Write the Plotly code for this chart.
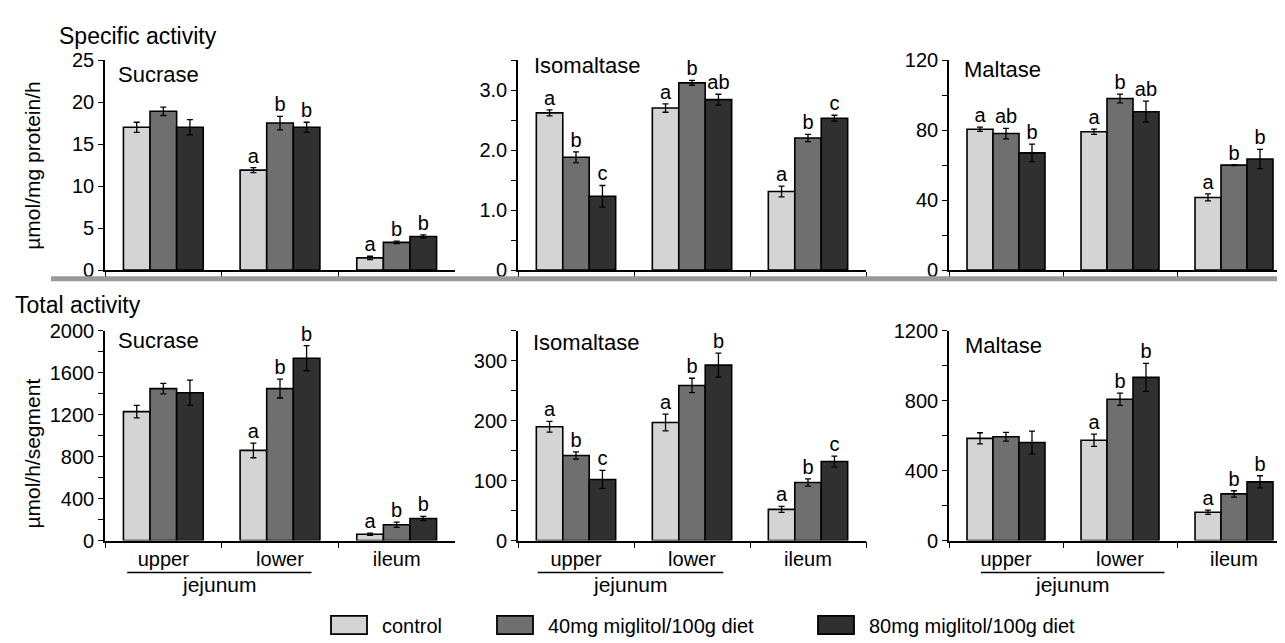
import plotly.graph_objects as go

# ---------------- data ----------------
segments = ["upper", "lower", "ileum"]
series_names = ["control", "40mg miglitol/100g diet", "80mg miglitol/100g diet"]
series_colors = ["#d4d4d4", "#6f6f6f", "#303030"]

# rows: control, 40mg, 80mg ; columns: upper, lower, ileum
sucrase_spec = [[17.0, 11.9, 1.45], [18.9, 17.5, 3.3], [17.0, 17.0, 4.0]]
sucrase_spec_err = [[0.6, 0.3, 0.2], [0.5, 0.8, 0.15], [0.9, 0.6, 0.2]]
sucrase_spec_letters = [["", "a", "a"], ["", "b", "b"], ["", "b", "b"]]

isomaltase_spec = [[2.62, 2.70, 1.31], [1.88, 3.12, 2.20], [1.23, 2.84, 2.53]]
isomaltase_spec_err = [[0.05, 0.07, 0.09], [0.09, 0.04, 0.06], [0.18, 0.09, 0.05]]
isomaltase_spec_letters = [["a", "a", "a"], ["b", "b", "b"], ["c", "ab", "c"]]

maltase_spec = [[80.5, 79.0, 41.5], [78.0, 98.0, 60.0], [67.0, 90.5, 63.5]]
maltase_spec_err = [[1.2, 1.5, 2.0], [3.0, 2.5, 0.3], [5.0, 6.0, 5.5]]
maltase_spec_letters = [["a", "a", "a"], ["ab", "b", "b"], ["b", "ab", "b"]]

sucrase_total = [[1230, 860, 60], [1450, 1450, 150], [1410, 1740, 210]]
sucrase_total_err = [[60, 70, 10], [50, 90, 25], [120, 120, 20]]
sucrase_total_letters = [["", "a", "a"], ["", "b", "b"], ["", "b", "b"]]

isomaltase_total = [[190, 197, 52], [142, 259, 97], [102, 293, 132]]
isomaltase_total_err = [[9, 14, 5], [6, 12, 6], [15, 20, 9]]
isomaltase_total_letters = [["a", "a", "a"], ["b", "b", "b"], ["c", "b", "c"]]

maltase_total = [[585, 574, 162], [594, 809, 267], [561, 934, 336]]
maltase_total_err = [[32, 35, 12], [25, 35, 18], [65, 80, 35]]
maltase_total_letters = [["", "a", "a"], ["", "b", "b"], ["", "b", "b"]]

# y-axis ticks
sucrase_spec_ticks = [0, 5, 10, 15, 20, 25]
sucrase_spec_ticktext = ["0", "5", "10", "15", "20", "25"]
isomaltase_spec_ticks = [0, 0.5, 1.0, 1.5, 2.0, 2.5, 3.0, 3.5]
isomaltase_spec_ticktext = ["0", "", "1.0", "", "2.0", "", "3.0", ""]
maltase_spec_ticks = [0, 20, 40, 60, 80, 100, 120]
maltase_spec_ticktext = ["0", "", "40", "", "80", "", "120"]
sucrase_total_ticks = list(range(0, 2001, 200))
sucrase_total_ticktext = [str(v) if v % 400 == 0 else "" for v in sucrase_total_ticks]
isomaltase_total_ticks = list(range(0, 351, 50))
isomaltase_total_ticktext = [str(v) if v % 100 == 0 else "" for v in isomaltase_total_ticks]
maltase_total_ticks = list(range(0, 1201, 200))
maltase_total_ticktext = [str(v) if v % 400 == 0 else "" for v in maltase_total_ticks]

panels = [
    ("Sucrase", sucrase_spec, sucrase_spec_err, sucrase_spec_letters, [0, 25], sucrase_spec_ticks, sucrase_spec_ticktext),
    ("Isomaltase", isomaltase_spec, isomaltase_spec_err, isomaltase_spec_letters, [0, 3.5], isomaltase_spec_ticks, isomaltase_spec_ticktext),
    ("Maltase", maltase_spec, maltase_spec_err, maltase_spec_letters, [0, 120], maltase_spec_ticks, maltase_spec_ticktext),
    ("Sucrase", sucrase_total, sucrase_total_err, sucrase_total_letters, [0, 2000], sucrase_total_ticks, sucrase_total_ticktext),
    ("Isomaltase", isomaltase_total, isomaltase_total_err, isomaltase_total_letters, [0, 350], isomaltase_total_ticks, isomaltase_total_ticktext),
    ("Maltase", maltase_total, maltase_total_err, maltase_total_letters, [0, 1200], maltase_total_ticks, maltase_total_ticktext),
]

# ---------------- layout geometry ----------------
W, H = 1285, 643
FONT = "Liberation Sans, Arial, Helvetica, sans-serif"


def px_x(v):
    return v / W


def px_y(v):
    return 1 - v / H


x_domains = [(97, 447), (510, 858), (941, 1283)]
y_domains = [(260, 42.5), (540, 323)]
title_pos = [(108, 57), (524, 48), (954, 52), (108, 333), (523, 335), (955, 338)]
jej_span = [(-0.31, 1.27), (-0.33, 1.27), (-0.22, 1.39)]

fig = go.Figure()
layout = dict(
    width=W, height=H,
    margin=dict(l=0, r=0, t=0, b=0),
    paper_bgcolor="white", plot_bgcolor="white",
    barmode="group", bargap=0.316, bargroupgap=0.0,
    scattermode="group", scattergap=0.316,
    showlegend=False,
    font=dict(family=FONT, color="black", size=20),
)
annotations = []
shapes = []

for p, (title, vals, errs, letters, yr, tv, tt) in enumerate(panels):
    row, col = divmod(p, 3)
    n = p + 1
    xa = "x" if n == 1 else f"x{n}"
    ya = "y" if n == 1 else f"y{n}"
    for s in range(3):
        fig.add_trace(go.Bar(
            x=segments, y=vals[s], name=series_names[s],
            marker=dict(color=series_colors[s], line=dict(color="black", width=1.6)),
            error_y=dict(type="data", array=errs[s], color="black", thickness=1.3, width=3),
            offsetgroup=str(s), alignmentgroup=f"g{n}",
            xaxis=xa, yaxis=ya, hoverinfo="skip",
        ))
        tops = [v + e for v, e in zip(vals[s], errs[s])]
        fig.add_trace(go.Scatter(
            x=segments, y=tops, mode="text", text=letters[s],
            textposition="top center", textfont=dict(size=20, family=FONT, color="black"),
            offsetgroup=str(s), alignmentgroup=f"g{n}",
            xaxis=xa, yaxis=ya, hoverinfo="skip", cliponaxis=False,
        ))
    x0, x1 = x_domains[col]
    yb, yt = y_domains[row]
    xkey = "xaxis" if n == 1 else f"xaxis{n}"
    ykey = "yaxis" if n == 1 else f"yaxis{n}"
    layout[xkey] = dict(
        domain=[px_x(x0), px_x(x1)], anchor=ya,
        type="category", categoryorder="array", categoryarray=segments,
        range=[-0.5, 2.5],
        showline=True, linecolor="black", linewidth=1.6,
        ticks="outside", tickson="boundaries", ticklen=6, tickwidth=1.4, tickcolor="black",
        showticklabels=(row == 1), tickfont=dict(size=20, family=FONT, color="black"),
        showgrid=False, zeroline=False, fixedrange=True,
    )
    layout[ykey] = dict(
        domain=[px_y(yb), px_y(yt)], anchor=xa,
        range=yr, tickvals=tv, ticktext=tt,
        showline=True, linecolor="black", linewidth=1.6,
        ticks="outside", ticklen=5, tickwidth=1.4, tickcolor="black",
        tickfont=dict(size=20, family=FONT, color="black"),
        showgrid=False, zeroline=False, fixedrange=True,
    )
    tx, ty = title_pos[p]
    annotations.append(dict(
        text=title, x=px_x(tx), y=px_y(ty), xref="paper", yref="paper",
        xanchor="left", yanchor="middle", showarrow=False,
        font=dict(size=22, family=FONT, color="black"),
    ))
    if row == 1:
        a, b = jej_span[col]
        shapes.append(dict(type="line", xref=xa, yref="paper", x0=a, x1=b,
                           y0=px_y(573), y1=px_y(573), line=dict(color="black", width=1.5)))
        annotations.append(dict(
            text="jejunum", x=(a + b) / 2, y=px_y(586), xref=xa, yref="paper",
            xanchor="center", yanchor="middle", showarrow=False,
            font=dict(size=21, family=FONT, color="black"),
        ))

# section headings and y titles
annotations.append(dict(text="Specific activity", x=px_x(49), y=px_y(18), xref="paper", yref="paper",
                        xanchor="left", yanchor="middle", showarrow=False,
                        font=dict(size=23, family=FONT, color="black")))
annotations.append(dict(text="Total activity", x=px_x(5), y=px_y(296), xref="paper", yref="paper",
                        xanchor="left", yanchor="middle", showarrow=False,
                        font=dict(size=23, family=FONT, color="black")))
annotations.append(dict(text="µmol/mg protein/h", x=px_x(25), y=px_y(152), xref="paper", yref="paper",
                        xanchor="center", yanchor="middle", textangle=-90, showarrow=False,
                        font=dict(size=21, family=FONT, color="black")))
annotations.append(dict(text="µmol/h/segment", x=px_x(25), y=px_y(450), xref="paper", yref="paper",
                        xanchor="center", yanchor="middle", textangle=-90, showarrow=False,
                        font=dict(size=21, family=FONT, color="black")))

# gray divider between the two rows
shapes.append(dict(type="line", xref="paper", yref="paper", x0=px_x(43), x1=px_x(1281),
                   y0=px_y(269), y1=px_y(269), line=dict(color="#9a9a9a", width=5)))

# legend (custom swatches)
legend_box_left = [323, 489, 810]
for s in range(3):
    bx = legend_box_left[s]
    shapes.append(dict(type="rect", xref="paper", yref="paper",
                       x0=px_x(bx), x1=px_x(bx + 36), y0=px_y(637), y1=px_y(618),
                       fillcolor=series_colors[s], line=dict(color="black", width=1.8)))
    annotations.append(dict(text=series_names[s], x=px_x(bx + 49), y=px_y(629), xref="paper", yref="paper",
                            xanchor="left", yanchor="middle", showarrow=False,
                            font=dict(size=20, family=FONT, color="black")))

layout["annotations"] = annotations
layout["shapes"] = shapes
fig.update_layout(**layout)
fig.write_html("out.html")
